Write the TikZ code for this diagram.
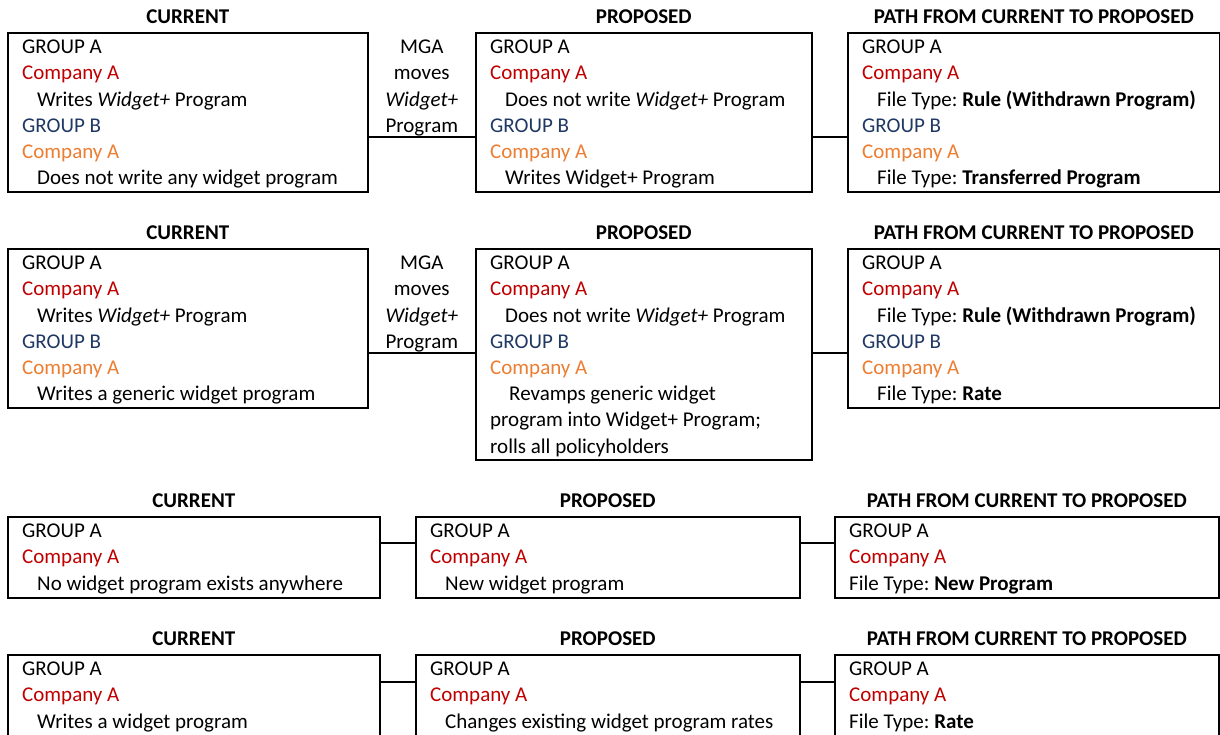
\documentclass[tikz,border=0pt]{standalone}
\usepackage{fontspec}
\setmainfont{Carlito}
\usetikzlibrary{calc}
\definecolor{cred}{HTML}{C00000}
\definecolor{cblue}{HTML}{1F3864}
\definecolor{corange}{HTML}{ED7D31}
\tikzset{
 box/.style={draw, line width=1.6pt, rectangle, inner sep=0pt, anchor=north west},
 txt/.style={anchor=north west, inner sep=0pt, align=left, font=\fontsize{21}{26.2}\selectfont},
 ttl/.style={anchor=base, inner sep=0pt, font=\fontsize{21}{26.2}\selectfont\bfseries},
 mga/.style={anchor=north, inner sep=0pt, align=center, font=\fontsize{21}{26.2}\selectfont},
 conn/.style={line width=1.6pt},
}
\newcommand{\ind}{\hspace*{15pt}}
\newcommand{\cA}{\textcolor{cred}{Company A}}
\newcommand{\gB}{\textcolor{cblue}{GROUP B}}
\newcommand{\cB}{\textcolor{corange}{Company A}}
\frenchspacing
\begin{document}
\begin{tikzpicture}[x=1pt,y=-1pt]
\useasboundingbox (0,0) rectangle (1220,734);
\clip (0,0) rectangle (1220,734);
\fill[white] (0,0) rectangle (1220,734);
% ---------- Row 1
\node[box, minimum width=360pt, minimum height=159pt] (L1) at (7,32) {};
\node[box, minimum width=336pt, minimum height=159pt] (M1) at (475,32) {};
\node[box, minimum width=372pt, minimum height=159pt] (R1) at (847,32) {};
\node[ttl] (TL1) at ($(L1.north)+(0,-9)$) {CURRENT};
\node[ttl] (TM1) at ($(M1.north)+(0,-9)$) {PROPOSED};
\node[ttl] (TR1) at ($(R1.north)+(0,-9)$) {PATH FROM CURRENT TO PROPOSED};
\node[txt] (XL1) at ($(L1.north west)+(15,3.2)$) {\strut GROUP A\\\cA\\\ind Writes \textit{Widget+} Program\\\gB\\\cB\\\ind Does not write any widget program};
\node[txt] (XM1) at ($(M1.north west)+(15,3.2)$) {\strut GROUP A\\\cA\\\ind Does not write \textit{Widget+} Program\\\gB\\\cB\\\ind Writes Widget+ Program};
\node[txt] (XR1) at ($(R1.north west)+(15,3.2)$) {\strut GROUP A\\\cA\\\ind File Type: \textbf{Rule (Withdrawn Program)}\\\gB\\\cB\\\ind File Type: \textbf{Transferred Program}};
\node[mga] (G1) at ($(L1.north east)!0.5!(M1.north west)+(0,3.2)$) {\strut MGA\\moves\\\textit{Widget+}\\Program};
\coordinate (c1) at (0,137);
\draw[conn] (L1.east |- c1) -- (M1.west |- c1);
\draw[conn] (M1.east |- c1) -- (R1.west |- c1);
% ---------- Row 2
\node[box, minimum width=360pt, minimum height=159pt] (L2) at (7,248) {};
\node[box, minimum width=336pt, minimum height=211pt] (M2) at (475,248) {};
\node[box, minimum width=372pt, minimum height=159pt] (R2) at (847,248) {};
\node[ttl] (TL2) at ($(L2.north)+(0,-9)$) {CURRENT};
\node[ttl] (TM2) at ($(M2.north)+(0,-9)$) {PROPOSED};
\node[ttl] (TR2) at ($(R2.north)+(0,-9)$) {PATH FROM CURRENT TO PROPOSED};
\node[txt] (XL2) at ($(L2.north west)+(15,3.2)$) {\strut GROUP A\\\cA\\\ind Writes \textit{Widget+} Program\\\gB\\\cB\\\ind Writes a generic widget program};
\node[txt] (XM2) at ($(M2.north west)+(15,3.2)$) {\strut GROUP A\\\cA\\\ind Does not write \textit{Widget+} Program\\\gB\\\cB\\\hspace*{19pt}Revamps generic widget\\program into Widget+ Program;\\rolls all policyholders};
\node[txt] (XR2) at ($(R2.north west)+(15,3.2)$) {\strut GROUP A\\\cA\\\ind File Type: \textbf{Rule (Withdrawn Program)}\\\gB\\\cB\\\ind File Type: \textbf{Rate}};
\node[mga] (G2) at ($(L2.north east)!0.5!(M2.north west)+(0,3.2)$) {\strut MGA\\moves\\\textit{Widget+}\\Program};
\coordinate (c2) at (0,353);
\draw[conn] (L2.east |- c2) -- (M2.west |- c2);
\draw[conn] (M2.east |- c2) -- (R2.west |- c2);
% ---------- Row 3
\node[box, minimum width=372pt, minimum height=81pt] (L3) at (7,516) {};
\node[box, minimum width=384pt, minimum height=81pt] (M3) at (415,516) {};
\node[box, minimum width=384pt, minimum height=81pt] (R3) at (834,516) {};
\node[ttl] (TL3) at ($(L3.north)+(0,-9)$) {CURRENT};
\node[ttl] (TM3) at ($(M3.north)+(0,-9)$) {PROPOSED};
\node[ttl] (TR3) at ($(R3.north)+(0,-9)$) {PATH FROM CURRENT TO PROPOSED};
\node[txt] (XL3) at ($(L3.north west)+(15,3.2)$) {\strut GROUP A\\\cA\\\ind No widget program exists anywhere};
\node[txt] (XM3) at ($(M3.north west)+(15,3.2)$) {\strut GROUP A\\\cA\\\ind New widget program};
\node[txt] (XR3) at ($(R3.north west)+(15,3.2)$) {\strut GROUP A\\\cA\\File Type: \textbf{New Program}};
\coordinate (c3) at (0,543);
\draw[conn] (L3.east |- c3) -- (M3.west |- c3);
\draw[conn] (M3.east |- c3) -- (R3.west |- c3);
% ---------- Row 4
\node[box, minimum width=372pt, minimum height=90pt] (L4) at (7,654) {};
\node[box, minimum width=384pt, minimum height=90pt] (M4) at (415,654) {};
\node[box, minimum width=384pt, minimum height=90pt] (R4) at (834,654) {};
\node[ttl] (TL4) at ($(L4.north)+(0,-9)$) {CURRENT};
\node[ttl] (TM4) at ($(M4.north)+(0,-9)$) {PROPOSED};
\node[ttl] (TR4) at ($(R4.north)+(0,-9)$) {PATH FROM CURRENT TO PROPOSED};
\node[txt] (XL4) at ($(L4.north west)+(15,3.2)$) {\strut GROUP A\\\cA\\\ind Writes a widget program};
\node[txt] (XM4) at ($(M4.north west)+(15,3.2)$) {\strut GROUP A\\\cA\\\ind Changes existing widget program rates};
\node[txt] (XR4) at ($(R4.north west)+(15,3.2)$) {\strut GROUP A\\\cA\\File Type: \textbf{Rate}};
\coordinate (c4) at (0,682);
\draw[conn] (L4.east |- c4) -- (M4.west |- c4);
\draw[conn] (M4.east |- c4) -- (R4.west |- c4);
\end{tikzpicture}
\end{document}
